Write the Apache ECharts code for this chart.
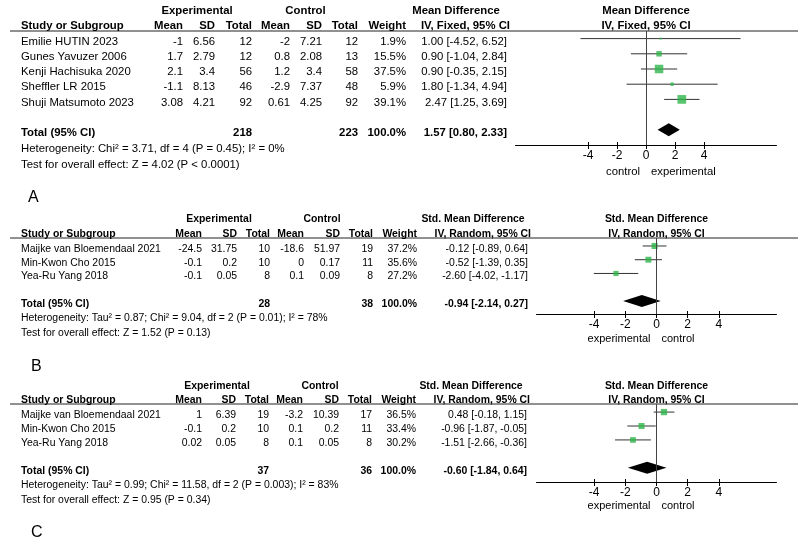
<!DOCTYPE html>
<html><head><meta charset="utf-8">
<script src="https://cdn.jsdelivr.net/npm/echarts@6/dist/echarts.min.js"></script>
<style>html,body{margin:0;padding:0;background:#fff}#c{width:798px;height:547px}</style>
</head><body><div id="c"></div>
<script>
// ---------- Panel A data ----------
const studiesA = ['Emilie HUTIN 2023','Gunes Yavuzer 2006','Kenji Hachisuka 2020','Sheffler LR 2015','Shuji Matsumoto 2023'];
const expMeanA = [-1, 1.7, 2.1, -1.1, 3.08];
const expSdA   = [6.56, 2.79, 3.4, 8.13, 4.21];
const expNA    = [12, 12, 56, 46, 92];
const ctlMeanA = [-2, 0.8, 1.2, -2.9, 0.61];
const ctlSdA   = [7.21, 2.08, 3.4, 7.37, 4.25];
const ctlNA    = [12, 13, 58, 48, 92];
const weightA  = [1.9, 15.5, 37.5, 5.9, 39.1];
const estA     = [1.00, 0.90, 0.90, 1.80, 2.47];
const loA      = [-4.52, -1.04, -0.35, -1.34, 1.25];
const hiA      = [6.52, 2.84, 2.15, 4.94, 3.69];
const totalA   = [1.57, 0.80, 2.33];
const totalNA  = [218, 223];
const hetA  = 'Heterogeneity: Chi² = 3.71, df = 4 (P = 0.45); I² = 0%';
const testA = 'Test for overall effect: Z = 4.02 (P < 0.0001)';

// ---------- Panel B data ----------
const studiesB = ['Maijke van Bloemendaal 2021','Min-Kwon Cho 2015','Yea-Ru Yang 2018'];
const expMeanB = [-24.5, -0.1, -0.1];
const expSdB   = [31.75, 0.2, 0.05];
const expNB    = [10, 10, 8];
const ctlMeanB = [-18.6, 0, 0.1];
const ctlSdB   = [51.97, 0.17, 0.09];
const ctlNB    = [19, 11, 8];
const weightB  = [37.2, 35.6, 27.2];
const estB     = [-0.12, -0.52, -2.60];
const loB      = [-0.89, -1.39, -4.02];
const hiB      = [0.64, 0.35, -1.17];
const totalB   = [-0.94, -2.14, 0.27];
const totalNB  = [28, 38];
const hetB  = 'Heterogeneity: Tau² = 0.87; Chi² = 9.04, df = 2 (P = 0.01); I² = 78%';
const testB = 'Test for overall effect: Z = 1.52 (P = 0.13)';

// ---------- Panel C data ----------
const studiesC = ['Maijke van Bloemendaal 2021','Min-Kwon Cho 2015','Yea-Ru Yang 2018'];
const expMeanC = [1, -0.1, 0.02];
const expSdC   = [6.39, 0.2, 0.05];
const expNC    = [19, 10, 8];
const ctlMeanC = [-3.2, 0.1, 0.1];
const ctlSdC   = [10.39, 0.2, 0.05];
const ctlNC    = [17, 11, 8];
const weightC  = [36.5, 33.4, 30.2];
const estC     = [0.48, -0.96, -1.51];
const loC      = [-0.18, -1.87, -2.66];
const hiC      = [1.15, -0.05, -0.36];
const totalC   = [-0.60, -1.84, 0.64];
const totalNC  = [37, 36];
const hetC  = 'Heterogeneity: Tau² = 0.99; Chi² = 11.58, df = 2 (P = 0.003); I² = 83%';
const testC = 'Test for overall effect: Z = 0.95 (P = 0.34)';

const tickValues = [-4, -2, 0, 2, 4];

// ---------- layout (positions / styles) ----------
const FF = '"Liberation Sans", Arial, sans-serif';
const panels = [
  { label:'A', labelX:28, labelY:197.5,
    studies:studiesA, expMean:expMeanA, expSd:expSdA, expN:expNA, ctlMean:ctlMeanA, ctlSd:ctlSdA, ctlN:ctlNA,
    weight:weightA, est:estA, lo:loA, hi:hiA, total:totalA, totalN:totalNA, het:hetA, test:testA,
    effectTitle:'Mean Difference', effectSub:'IV, Fixed, 95% CI', leftLab:'control', rightLab:'experimental',
    grid:{left:515.5, width:261, top:31, height:114}, xr:[-9, 9], yr:[-0.5, 7.0], totalRow:6,
    font:11.35, k:1.39, dh:6.5, lineGap:16, favGap:27, favFont:11.3,
    cols:{mean1:183, sd1:215, n1:252, mean2:290, sd2:322, n2:358, w:406, ci:507, ciHead:510},
    grpY:[11, 26], exC:197, ctC:305.5, mdC:456 },
  { label:'B', labelX:31, labelY:367,
    studies:studiesB, expMean:expMeanB, expSd:expSdB, expN:expNB, ctlMean:ctlMeanB, ctlSd:ctlSdB, ctlN:ctlNB,
    weight:weightB, est:estB, lo:loB, hi:hiB, total:totalB, totalN:totalNB, het:hetB, test:testB,
    effectTitle:'Std. Mean Difference', effectSub:'IV, Random, 95% CI', leftLab:'experimental', rightLab:'control',
    grid:{left:536.5, width:240, top:238, height:76}, xr:[-7.7, 7.7], yr:[-0.58, 4.95], totalRow:4,
    font:10.45, k:1.0, dh:6, lineGap:14.5, favGap:25, favFont:11,
    cols:{mean1:202, sd1:237, n1:270, mean2:304, sd2:340, n2:373, w:417, ci:528, ciHead:531},
    grpY:[219, 234], exC:219, ctC:322, mdC:473 },
  { label:'C', labelX:31, labelY:533,
    studies:studiesC, expMean:expMeanC, expSd:expSdC, expN:expNC, ctlMean:ctlMeanC, ctlSd:ctlSdC, ctlN:ctlNC,
    weight:weightC, est:estC, lo:loC, hi:hiC, total:totalC, totalN:totalNC, het:hetC, test:testC,
    effectTitle:'Std. Mean Difference', effectSub:'IV, Random, 95% CI', leftLab:'experimental', rightLab:'control',
    grid:{left:536.5, width:240, top:404, height:78}, xr:[-7.7, 7.7], yr:[-0.58, 5.02], totalRow:4,
    font:10.45, k:1.04, dh:6, lineGap:14.5, favGap:23.5, favFont:11,
    cols:{mean1:202, sd1:236, n1:269, mean2:303, sd2:339, n2:372, w:416, ci:527, ciHead:530},
    grpY:[386, 400], exC:217, ctC:320, mdC:471 }
];

const chart = echarts.init(document.getElementById('c'), null, {renderer:'canvas'});

const grids = [], xAxes = [], yAxes = [], series = [];
panels.forEach((p, gi) => {
  grids.push({left:p.grid.left, top:p.grid.top, width:p.grid.width, height:p.grid.height, containLabel:false});
  xAxes.push({gridIndex:gi, type:'value', min:p.xr[0], max:p.xr[1], position:'bottom',
    axisLine:{show:true, onZero:false, lineStyle:{color:'#000', width:1}},
    axisTick:{show:true, customValues:tickValues, length:4, lineStyle:{color:'#000', width:1}},
    axisLabel:{show:true, customValues:tickValues, margin:5, fontSize:12, color:'#000', fontFamily:FF},
    splitLine:{show:false}});
  xAxes.push({gridIndex:gi, type:'value', min:p.xr[0], max:p.xr[1], position:'bottom',
    axisLine:{show:false, onZero:false},
    axisTick:{show:true, inside:true, customValues:tickValues, length:3, lineStyle:{color:'#000', width:1}},
    axisLabel:{show:false}, splitLine:{show:false}});
  yAxes.push({gridIndex:gi, type:'value', min:p.yr[0], max:p.yr[1], inverse:true, show:false});
  const xi = gi * 2;
  // CI lines
  series.push({type:'custom', xAxisIndex:xi, yAxisIndex:gi, silent:true, z:2,
    data:p.est.map((e, i) => [p.lo[i], p.hi[i], i]),
    encode:{x:[0,1], y:2},
    renderItem:(params, api) => {
      const a = api.coord([api.value(0), api.value(2)]);
      const b = api.coord([api.value(1), api.value(2)]);
      return {type:'line', shape:{x1:a[0], y1:a[1], x2:b[0], y2:b[1]}, style:{stroke:'#333', lineWidth:1}};
    }});
  // squares
  const k = p.k;
  series.push({type:'scatter', xAxisIndex:xi, yAxisIndex:gi, silent:true, z:3,
    symbol:'rect', symbolSize:(v) => k * Math.sqrt(v[2]),
    itemStyle:{color:'#2fb54a'},
    data:p.est.map((e, i) => [e, i, p.weight[i]]),
    markLine:{silent:true, symbol:['none','none'], label:{show:false},
      lineStyle:{color:'#444', width:1, type:'solid'}, data:[{xAxis:0}]}});
  // diamond
  const dh = p.dh;
  series.push({type:'custom', xAxisIndex:xi, yAxisIndex:gi, silent:true, z:4,
    data:[[p.total[0], p.total[1], p.total[2], p.totalRow]],
    encode:{x:[0,1,2], y:3},
    renderItem:(params, api) => {
      const c = api.coord([api.value(0), api.value(3)]);
      const l = api.coord([api.value(1), api.value(3)]);
      const r = api.coord([api.value(2), api.value(3)]);
      return {type:'polygon', shape:{points:[[l[0], c[1]], [c[0], c[1]-dh], [r[0], c[1]], [c[0], c[1]+dh]]},
        style:{fill:'#000'}};
    }});
});

chart.setOption({animation:false, backgroundColor:'#fff', grid:grids, xAxis:xAxes, yAxis:yAxes, series:series});

// ---------- table text, placed on the rows of each panel's own y scale ----------
function T(x, y, s, size, align, bold) {
  return {type:'text', x:x, y:y, silent:true,
    style:{text:s, fill:'#000', font:(bold ? 'bold ' : '') + size + 'px ' + FF,
      textAlign:align, align:align, textVerticalAlign:'middle', verticalAlign:'middle'}};
}
const fmt2 = v => v.toFixed(2);
const ciStr = (e, l, h) => fmt2(e) + ' [' + fmt2(l) + ', ' + fmt2(h) + ']';
const g = [];
panels.forEach((p, gi) => {
  const f = p.font, c = p.cols;
  const rowY = i => chart.convertToPixel({gridIndex:gi}, [0, i])[1];
  const zeroX = chart.convertToPixel({gridIndex:gi}, [0, 0])[0];
  const axisY = p.grid.top + p.grid.height;
  const plotC = p.grid.left + p.grid.width / 2;
  g.push({type:'line', silent:true, shape:{x1:10, y1:p.grid.top, x2:798, y2:p.grid.top}, style:{stroke:'#222', lineWidth:1}});
  g.push(T(p.exC, p.grpY[0], 'Experimental', f, 'center', true));
  g.push(T(p.ctC, p.grpY[0], 'Control', f, 'center', true));
  g.push(T(p.mdC, p.grpY[0], p.effectTitle, f, 'center', true));
  g.push(T(plotC, p.grpY[0], p.effectTitle, f, 'center', true));
  g.push(T(plotC, p.grpY[1], p.effectSub, f, 'center', true));
  const hy = p.grpY[1];
  g.push(T(21, hy, 'Study or Subgroup', f, 'left', true));
  g.push(T(c.mean1, hy, 'Mean', f, 'right', true));
  g.push(T(c.sd1, hy, 'SD', f, 'right', true));
  g.push(T(c.n1, hy, 'Total', f, 'right', true));
  g.push(T(c.mean2, hy, 'Mean', f, 'right', true));
  g.push(T(c.sd2, hy, 'SD', f, 'right', true));
  g.push(T(c.n2, hy, 'Total', f, 'right', true));
  g.push(T(c.w, hy, 'Weight', f, 'right', true));
  g.push(T(c.ciHead, hy, p.effectSub, f, 'right', true));
  p.studies.forEach((s, i) => {
    const y = rowY(i) + 3;
    g.push(T(21, y, s, f, 'left', false));
    g.push(T(c.mean1, y, String(p.expMean[i]), f, 'right', false));
    g.push(T(c.sd1, y, String(p.expSd[i]), f, 'right', false));
    g.push(T(c.n1, y, String(p.expN[i]), f, 'right', false));
    g.push(T(c.mean2, y, String(p.ctlMean[i]), f, 'right', false));
    g.push(T(c.sd2, y, String(p.ctlSd[i]), f, 'right', false));
    g.push(T(c.n2, y, String(p.ctlN[i]), f, 'right', false));
    g.push(T(c.w, y, p.weight[i].toFixed(1) + '%', f, 'right', false));
    g.push(T(c.ci, y, ciStr(p.est[i], p.lo[i], p.hi[i]), f, 'right', false));
  });
  const ty = rowY(p.totalRow) + 3;
  g.push(T(21, ty, 'Total (95% CI)', f, 'left', true));
  g.push(T(c.n1, ty, String(p.totalN[0]), f, 'right', true));
  g.push(T(c.n2, ty, String(p.totalN[1]), f, 'right', true));
  g.push(T(c.w, ty, '100.0%', f, 'right', true));
  g.push(T(c.ci, ty, ciStr(p.total[0], p.total[1], p.total[2]), f, 'right', true));
  g.push(T(21, ty + p.lineGap, p.het, f, 'left', false));
  g.push(T(21, ty + 2 * p.lineGap, p.test, f, 'left', false));
  g.push(T(zeroX - 6, axisY + p.favGap, p.leftLab, p.favFont, 'right', false));
  g.push(T(zeroX + 5, axisY + p.favGap, p.rightLab, p.favFont, 'left', false));
  g.push(T(p.labelX, p.labelY, p.label, 16, 'left', false));
});
chart.setOption({graphic:{elements:g}});
</script>
</body></html>
